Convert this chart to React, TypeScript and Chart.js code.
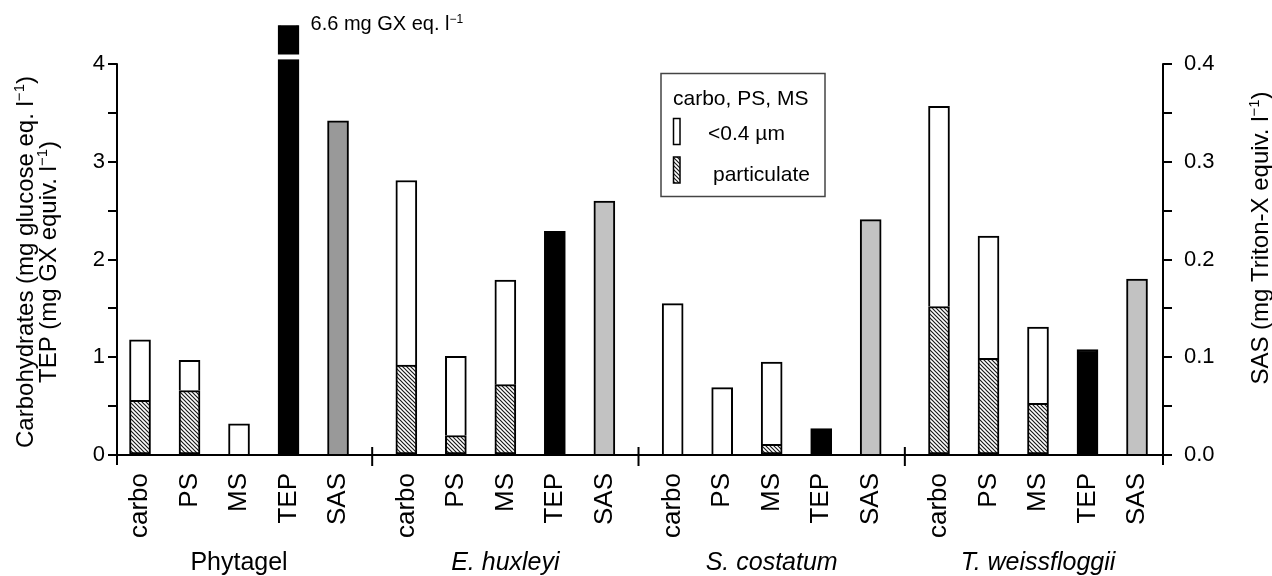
import React, { useEffect, useRef } from "react";
import { Chart, registerables } from "chart.js";

Chart.register(...registerables);

// Cultures along the x axis and the five measurements shown for each
const groups = ["Phytagel", "E. huxleyi", "S. costatum", "T. weissfloggii"];
const groupItalic = [false, true, true, true];
const barNames = ["carbo", "PS", "MS", "TEP", "SAS"];

// Carbohydrate fractions (mg glucose eq. l-1): total and particulate part
const carboTotal = [1.18, 2.81, 1.55, 3.57];
const carboParticulate = [0.56, 0.92, 0, 1.52];
const psTotal = [0.97, 1.01, 0.69, 2.24];
const psParticulate = [0.66, 0.2, 0, 0.99];
const msTotal = [0.32, 1.79, 0.95, 1.31];
const msParticulate = [0, 0.72, 0.11, 0.53];

// TEP (mg GX equiv. l-1) and SAS (mg Triton-X equiv. l-1, right axis)
const tep = [6.6, 2.29, 0.27, 1.08];
const sas = [0.342, 0.26, 0.241, 0.18];

// Axis ticks
const leftTicks = [0, 0.5, 1, 1.5, 2, 2.5, 3, 3.5, 4];
const rightTicks = [0, 0.05, 0.1, 0.15, 0.2, 0.25, 0.3, 0.35, 0.4];

// Layout of the x axis: bar slots of width 1, groups spaced a bit wider than 5 slots
const GROUP_STRIDE = 5.38;
const X_MIN = -0.465;
const X_MAX = 3 * GROUP_STRIDE + 4 + 0.525;
const slot = (g: number, i: number) => g * GROUP_STRIDE + i;

const FONT = '"Liberation Sans", Arial, Helvetica, sans-serif';

function makeHatch(): CanvasPattern | string {
  const c = document.createElement("canvas");
  c.width = 4;
  c.height = 4;
  const g = c.getContext("2d");
  if (!g) return "#777";
  g.fillStyle = "#fff";
  g.fillRect(0, 0, 4, 4);
  g.strokeStyle = "#1a1a1a";
  g.lineWidth = 1.2;
  g.beginPath();
  g.moveTo(0, 0);
  g.lineTo(4, 4);
  g.moveTo(-1, 3);
  g.lineTo(1, 5);
  g.moveTo(3, -1);
  g.lineTo(5, 1);
  g.stroke();
  return g.createPattern(c, "repeat") || "#777";
}

type Run = [string, boolean];

// Draws text with optional superscript runs, left-aligned on an alphabetic baseline
function drawRich(ctx: CanvasRenderingContext2D, x: number, y: number, parts: Run[], size: number) {
  let cx = x;
  ctx.textAlign = "left";
  ctx.textBaseline = "alphabetic";
  for (const [t, sup] of parts) {
    const s = sup ? Math.round(size * 0.62) : size;
    ctx.font = `${s}px ${FONT}`;
    ctx.fillText(t, cx, sup ? y - size * 0.36 : y);
    cx += ctx.measureText(t).width;
  }
  return cx - x;
}

function richWidth(ctx: CanvasRenderingContext2D, parts: Run[], size: number) {
  let w = 0;
  for (const [t, sup] of parts) {
    const s = sup ? Math.round(size * 0.62) : size;
    ctx.font = `${s}px ${FONT}`;
    w += ctx.measureText(t).width;
  }
  return w;
}

// Vertical title reading bottom to top, centred on (x baseline, yCenter)
function drawVertical(ctx: CanvasRenderingContext2D, x: number, yCenter: number, parts: Run[], size: number) {
  const w = richWidth(ctx, parts, size);
  ctx.save();
  ctx.translate(x, yCenter + w / 2);
  ctx.rotate(-Math.PI / 2);
  drawRich(ctx, 0, 0, parts, size);
  ctx.restore();
}

export default function App() {
  const ref = useRef<HTMLCanvasElement>(null);

  useEffect(() => {
    document.body.style.margin = "0";
    const canvas = ref.current;
    if (!canvas) return;
    const hatch = makeHatch();

    const totals = [carboTotal, psTotal, msTotal];
    const parts = [carboParticulate, psParticulate, msParticulate];

    const particulateData: { x: number; y: number | null }[] = [];
    const dissolvedData: { x: number; y: number | null }[] = [];
    for (let i = 0; i < 3; i++) {
      groups.forEach((_, g) => {
        const p = parts[i][g];
        particulateData.push({ x: slot(g, i), y: p > 0 ? p : null });
        dissolvedData.push({ x: slot(g, i), y: totals[i][g] - p });
      });
    }
    const tepData = groups.map((_, g) => ({ x: slot(g, 3), y: tep[g] }));
    const sasData = groups.map((_, g) => ({ x: slot(g, 4), y: sas[g] }));

    const BAR = 21;

    const decorations = {
      id: "decorations",
      afterDraw(chart: Chart) {
        const ctx = chart.ctx;
        const xs = chart.scales.x;
        const ys = chart.scales.y;
        const y1 = chart.scales.y1;
        const area = chart.chartArea;
        const base = ys.getPixelForValue(0);

        ctx.save();
        ctx.strokeStyle = "#000";
        ctx.fillStyle = "#000";
        ctx.lineWidth = 2;
        ctx.lineCap = "butt";

        // axis lines
        ctx.beginPath();
        ctx.moveTo(area.left, ys.getPixelForValue(4) - 1);
        ctx.lineTo(area.left, base + 10);
        ctx.moveTo(area.right, y1.getPixelForValue(0.4) - 1);
        ctx.lineTo(area.right, base + 10);
        ctx.moveTo(area.left, base);
        ctx.lineTo(area.right, base);
        // separators between cultures
        for (let g = 0; g < groups.length - 1; g++) {
          const px = xs.getPixelForValue(g * GROUP_STRIDE + (4 + GROUP_STRIDE) / 2);
          ctx.moveTo(px, base - 8);
          ctx.lineTo(px, base + 11);
        }
        ctx.stroke();

        // break in the off-scale TEP bar
        const el: any = chart.getDatasetMeta(2).data[0];
        if (el) {
          const top = ys.getPixelForValue(4.1);
          const bot = ys.getPixelForValue(4.05);
          ctx.fillStyle = "#fff";
          ctx.fillRect(el.x - BAR / 2 - 2, top, BAR + 4, bot - top);
          ctx.fillStyle = "#000";
          drawRich(ctx, el.x + 22, 30, [[`${tep[0]} mg GX eq. l`, false], ["\u22121", true]], 20);
        }

        // bar labels under the axis
        ctx.font = `26px ${FONT}`;
        groups.forEach((_, g) => {
          barNames.forEach((name, i) => {
            const px = xs.getPixelForValue(slot(g, i));
            ctx.save();
            ctx.translate(px, base + 18);
            ctx.rotate(-Math.PI / 2);
            ctx.textAlign = "right";
            ctx.textBaseline = "middle";
            ctx.fillText(name, 0, 0);
            ctx.restore();
          });
        });

        // culture names
        groups.forEach((name, g) => {
          ctx.font = `${groupItalic[g] ? "italic " : ""}25px ${FONT}`;
          ctx.textAlign = "center";
          ctx.textBaseline = "alphabetic";
          ctx.fillText(name, xs.getPixelForValue(slot(g, 2)), 570);
        });

        // axis titles
        drawVertical(ctx, 33, 262, [["Carbohydrates (mg glucose eq. l", false], ["\u22121", true], [")", false]], 24);
        drawVertical(ctx, 56, 262, [["TEP (mg GX equiv. l", false], ["\u22121", true], [")", false]], 24);
        drawVertical(ctx, 1268, 238, [["SAS (mg Triton-X equiv. l", false], ["\u22121", true], [")", false]], 24);

        // legend box
        ctx.lineWidth = 1.5;
        ctx.strokeStyle = "#444";
        ctx.strokeRect(661, 73.5, 164, 123);
        ctx.fillStyle = "#000";
        ctx.font = `21px ${FONT}`;
        ctx.textAlign = "left";
        ctx.textBaseline = "alphabetic";
        ctx.fillText("carbo, PS, MS", 673, 105);
        ctx.fillText("<0.4 \u00b5m", 708, 140);
        ctx.fillText("particulate", 713, 181);
        ctx.strokeStyle = "#000";
        ctx.fillStyle = "#fff";
        ctx.fillRect(673.5, 118.5, 6.5, 26);
        ctx.strokeRect(673.5, 118.5, 6.5, 26);
        ctx.fillStyle = hatch as any;
        ctx.fillRect(673.5, 157, 6.5, 26);
        ctx.strokeRect(673.5, 157, 6.5, 26);

        ctx.restore();
      },
    };

    const common = {
      borderColor: "#000",
      borderWidth: 2,
      barThickness: BAR,
      grouped: false,
    };

    const chart = new Chart(canvas, {
      type: "bar",
      data: {
        datasets: [
          {
            label: "particulate",
            data: particulateData as any,
            backgroundColor: hatch as any,
            borderSkipped: false,
            stack: "carb",
            yAxisID: "y",
            ...common,
          },
          {
            label: "<0.4 µm",
            data: dissolvedData as any,
            backgroundColor: "#fff",
            borderSkipped: "start",
            stack: "carb",
            yAxisID: "y",
            ...common,
          },
          {
            label: "TEP",
            data: tepData as any,
            backgroundColor: "#000",
            borderSkipped: "start",
            stack: "tep",
            yAxisID: "y",
            ...common,
          },
          {
            label: "SAS",
            data: sasData as any,
            backgroundColor: groups.map((_, g) => (g === 0 ? "#999999" : "#c2c2c2")),
            borderSkipped: "start",
            stack: "sas",
            yAxisID: "y1",
            ...common,
          },
        ],
      },
      options: {
        animation: false,
        responsive: false,
        devicePixelRatio: 1,
        layout: { padding: { top: 18, left: 0, right: 0, bottom: 0 } },
        plugins: {
          legend: { display: false },
          tooltip: { enabled: false },
        },
        scales: {
          x: {
            type: "linear",
            min: X_MIN,
            max: X_MAX,
            offset: false,
            bounds: "ticks",
            ticks: { display: false },
            grid: { display: false, offset: false },
            border: { display: false },
            afterFit: (s: any) => {
              s.height = 121;
            },
          },
          y: {
            type: "linear",
            position: "left",
            min: 0,
            max: 4.4,
            stacked: true,
            afterBuildTicks: (s: any) => {
              s.ticks = leftTicks.map((v) => ({ value: v }));
            },
            ticks: {
              color: "#000",
              font: { family: FONT, size: 22 },
              padding: 3,
              callback: (v: any) => (Number.isInteger(Number(v)) ? String(v) : ""),
            },
            grid: {
              drawOnChartArea: false,
              drawTicks: true,
              tickLength: 9,
              color: "#000",
              lineWidth: 2,
            },
            border: { display: false },
            afterFit: (s: any) => {
              s.width = 117;
            },
          },
          y1: {
            type: "linear",
            position: "right",
            min: 0,
            max: 0.44,
            stacked: false,
            afterBuildTicks: (s: any) => {
              s.ticks = rightTicks.map((v) => ({ value: v }));
            },
            ticks: {
              color: "#000",
              font: { family: FONT, size: 22 },
              padding: 12,
              callback: (v: any) => {
                const n = Number(v) * 10;
                return Math.abs(n - Math.round(n)) < 1e-6 ? Number(v).toFixed(1) : "";
              },
            },
            grid: {
              drawOnChartArea: false,
              drawTicks: true,
              tickLength: 9,
              color: "#000",
              lineWidth: 2,
            },
            border: { display: false },
            afterFit: (s: any) => {
              s.width = 109;
            },
          },
        },
      },
      plugins: [decorations],
    });

    return () => chart.destroy();
  }, []);

  return (
    <div style={{ width: 1272, height: 576, position: "relative" }}>
      <canvas ref={ref} width={1272} height={576} style={{ display: "block", width: 1272, height: 576 }} />
    </div>
  );
}
